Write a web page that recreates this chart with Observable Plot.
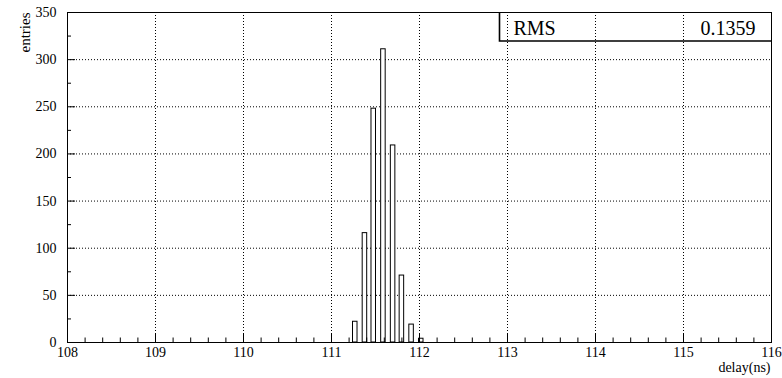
<!DOCTYPE html>
<html>
<head>
<meta charset="utf-8">
<script src="https://cdn.jsdelivr.net/npm/d3@7"></script>
<script src="https://cdn.jsdelivr.net/npm/@observablehq/plot@0.6"></script>
<style>
  html, body { margin: 0; padding: 0; background: #fff; }
  #chart { position: relative; width: 782px; height: 378px; }
  #chart svg, #chart svg text, #chart svg g {
    font-family: "Liberation Serif", "Times New Roman", Times, "DejaVu Serif", serif !important;
  }
</style>
</head>
<body>
<div id="chart"></div>
<script>
// ---- data ----
const binCenters = [111.27, 111.38, 111.48, 111.59, 111.70, 111.80, 111.91, 112.02];
const counts     = [22, 116, 248, 311, 209, 71, 19, 4];
const binWidth = 8 / 75;              // 75 bins over [108, 116]
const xMajor = [108, 109, 110, 111, 112, 113, 114, 115, 116];
const xMinor = [108.2,108.4,108.6,108.8,109.2,109.4,109.6,109.8,110.2,110.4,110.6,110.8,
                111.2,111.4,111.6,111.8,112.2,112.4,112.6,112.8,113.2,113.4,113.6,113.8,
                114.2,114.4,114.6,114.8,115.2,115.4,115.6,115.8];
const yMajor = [0, 50, 100, 150, 200, 250, 300, 350];
const yMinor = [25, 75, 125, 175, 225, 275, 325];
const xGrid = [109, 110, 111, 112, 113, 114, 115];
const yGrid = [50, 100, 150, 200, 250, 300];
const xLabel = "delay(ns)";
const yLabel = "entries";
const statName = "RMS";
const statValue = "0.1359";

const bars = binCenters.map((c, i) => ({
  x1: c - 0.24 * binWidth,
  x2: c + 0.24 * binWidth,
  y: counts[i]
}));

const W = 782, H = 378;
const mL = 67, mR = 11, mT = 12, mB = 36;
const innerW = W - mL - mR, innerH = H - mT - mB;
const font = "Liberation Serif, Times New Roman, Times, DejaVu Serif, serif";

const chart = Plot.plot({
  width: W, height: H,
  marginLeft: mL, marginRight: mR, marginTop: mT, marginBottom: mB,
  style: { fontSize: "14px", background: "#fff", color: "#000" },
  x: { domain: [108, 116] },
  y: { domain: [0, 350] },
  marks: [
    Plot.gridX(xGrid, { stroke: "#000", strokeOpacity: 1, strokeDasharray: "1,2", strokeWidth: 1 }),
    Plot.gridY(yGrid, { stroke: "#000", strokeOpacity: 1, strokeDasharray: "1,2", strokeWidth: 1 }),
    Plot.rectY(bars, { x1: "x1", x2: "x2", y: "y", fill: "#fff", stroke: "#000", strokeWidth: 1 }),
    // inward ticks
    Plot.tickX(xMajor, { x: d => d, stroke: "#000", insetTop: innerH - 9 }),
    Plot.tickX(xMinor, { x: d => d, stroke: "#000", insetTop: innerH - 4.5 }),
    Plot.tickY(yMajor, { y: d => d, stroke: "#000", insetRight: innerW - 8 }),
    Plot.tickY(yMinor, { y: d => d, stroke: "#000", insetRight: innerW - 4 }),
    Plot.axisX(xMajor, { tickSize: 0, tickPadding: 5, fontSize: 14, label: null }),
    Plot.axisY(yMajor, { tickSize: 0, tickPadding: 11, fontSize: 14, label: null }),
    Plot.frame({ stroke: "#000", strokeWidth: 1 }),
    Plot.text([xLabel], { text: d => d, frameAnchor: "bottom-right", textAnchor: "end",
      lineAnchor: "bottom", dx: -1, dy: 29, fontSize: 14 }),
    Plot.text([yLabel], { text: d => d, frameAnchor: "top-left", textAnchor: "end",
      lineAnchor: "bottom", rotate: -90, dx: -37.5, dy: 0, fontSize: 15 }),
    // stats box text
    Plot.text([statName], { text: d => d, frameAnchor: "top-right", textAnchor: "start",
      lineAnchor: "bottom", dx: -(W - mR - 513), dy: 22.5, fontSize: 20 }),
    Plot.text([statValue], { text: d => d, frameAnchor: "top-right", textAnchor: "end",
      lineAnchor: "bottom", dx: -16, dy: 22.5, fontSize: 20 })
  ]
});

chart.setAttribute("font-family", font);
chart.style.fontFamily = font;
document.getElementById("chart").appendChild(chart);

// stats box outline (legend box at top-right of the frame)
const svg = d3.select(chart);
svg.selectAll("text").attr("font-family", font).style("font-family", font);
const bx0 = 499.5, bx1 = W - mR, by0 = mT, by1 = 41;
svg.append("path")
  .attr("d", `M${bx0},${by0} L${bx0},${by1} L${bx1},${by1}`)
  .attr("fill", "none").attr("stroke", "#000").attr("stroke-width", 1.6);
</script>
</body>
</html>
